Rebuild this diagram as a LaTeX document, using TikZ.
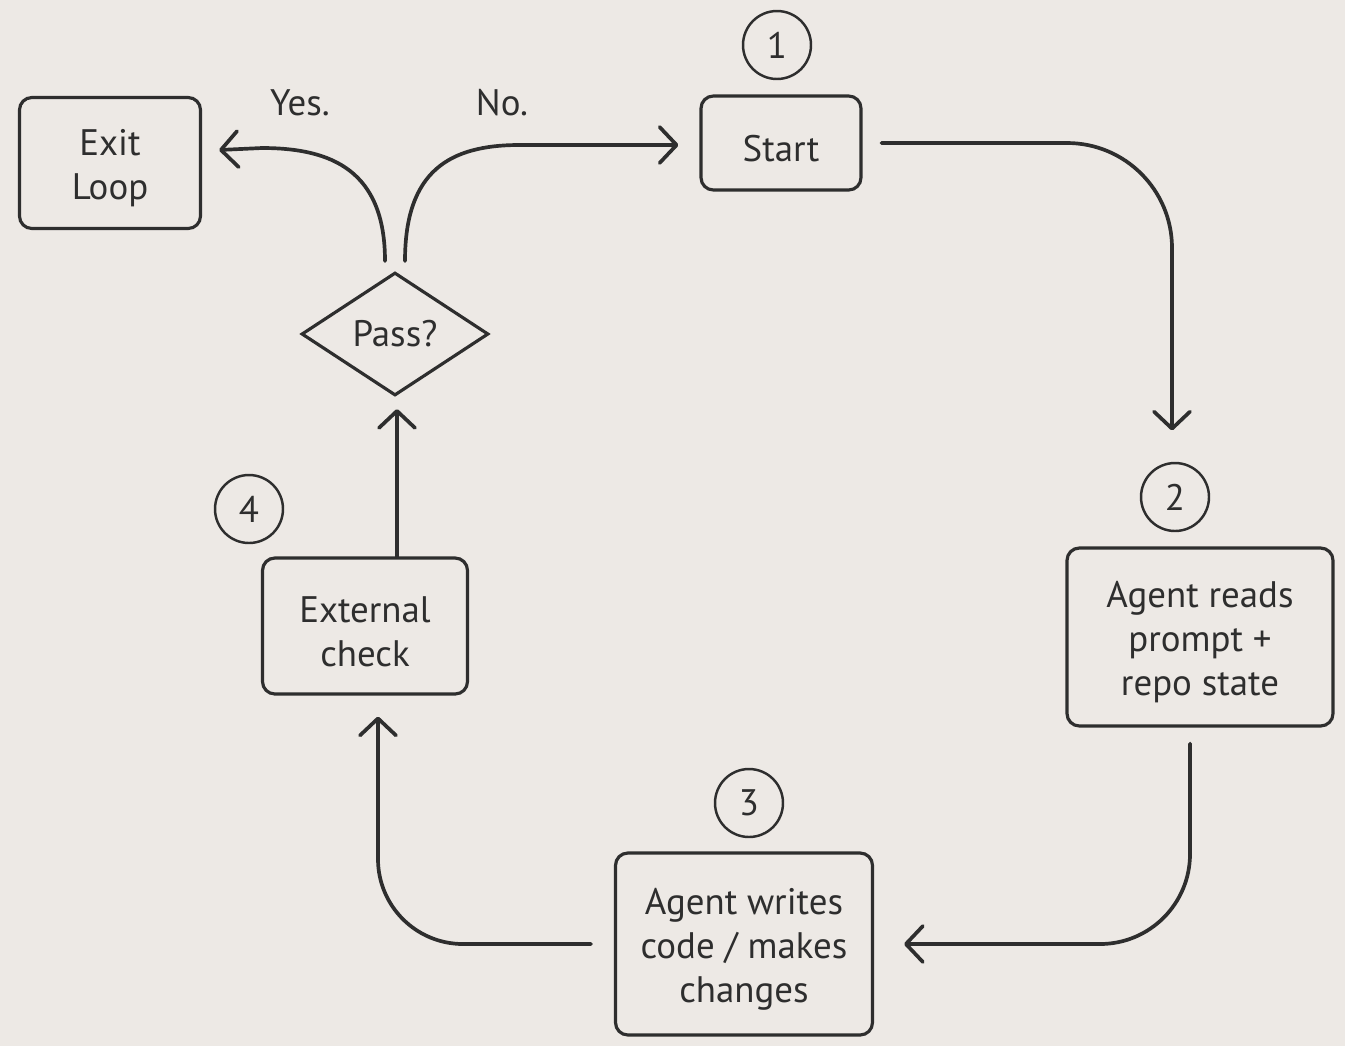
\documentclass[tikz,border=0pt]{standalone}
\usepackage{fontspec}
\setmainfont{PT Sans}
\usetikzlibrary{shapes.geometric,arrows.meta}
\definecolor{bg}{HTML}{EDE9E5}
\definecolor{ink}{HTML}{2E2E2E}
\newcommand{\upstrut}{\rule{0pt}{21pt}}
\begin{document}
\begin{tikzpicture}[x=0.02cm,y=-0.02cm,
  txt/.style={font=\fontsize{21}{25}\selectfont, text=ink},
  box/.style={txt, draw=ink, line width=1.8pt, rounded corners=7pt, align=center, inner sep=0pt},
  num/.style={txt, draw=ink, line width=1.4pt, circle, minimum size=1.36cm, inner sep=0pt},
  conn/.style={draw=ink, line width=2.1pt, line cap=round, line join=round,
    -{Straight Barb[length=0.34cm,width=0.72cm,round]}}]
\fill[bg] (0,0) rectangle (1345,1046);
\useasboundingbox (0,0) rectangle (1345,1046);

\node[box, minimum width=3.62cm, minimum height=2.62cm] (exit) at (110,163) {\upstrut Exit\\Loop};
\node[box, minimum width=3.2cm, minimum height=1.88cm] (start) at (781,143) {\upstrut Start};
\node[txt, diamond, draw=ink, line width=1.8pt, aspect=1.5, inner sep=0pt,
      minimum width=3.74cm, minimum height=2.46cm] (pass) at (395,334) {Pass?};
\node[box, minimum width=4.1cm, minimum height=2.72cm] (ext) at (365,626) {\upstrut External\\check};
\node[box, minimum width=5.32cm, minimum height=3.56cm] (reads) at (1200,637) {\upstrut Agent reads\\prompt +\\repo state};
\node[box, minimum width=5.14cm, minimum height=3.64cm] (writes) at (744,944) {\upstrut Agent writes\\code / makes\\changes};

\node[num] (n1) at (777,45) {1};
\node[num] (n2) at (1175,497) {2};
\node[num] (n3) at (749,803) {3};
\node[num] (n4) at (249,509) {4};

\node[txt] (yes) at (300,103) {Yes.};
\node[txt] (no) at (502,103) {No.};

\draw[conn, rounded corners=2.1cm, shorten <=0.38cm, shorten >=2.32cm]
  (start.east) -| ([xshift=-0.56cm]reads.north);
\draw[conn, rounded corners=1.8cm, shorten <=0.32cm, shorten >=0.6cm]
  ([xshift=-0.2cm]reads.south) |- (writes.east);
\draw[conn, rounded corners=1.7cm, shorten <=0.46cm, shorten >=0.42cm]
  (writes.west) -| ([xshift=0.26cm]ext.south);
\draw[conn, shorten >=0.24cm]
  ([xshift=0.64cm]ext.north) -- ([xshift=0.64cm]ext.north |- pass.south);
\draw[conn] ([shift={(-10,-10)}]pass.north) .. controls +(0,-90) and +(70,0) ..
  ([shift={(60,-15)}]exit.east) -- ([shift={(17,-13)}]exit.east);
\draw[conn] ([shift={(10,-10)}]pass.north) .. controls +(0,-90) and +(-70,0) ..
  ([shift={(-180,2)}]start.west) -- ([shift={(-21,2)}]start.west);
\end{tikzpicture}
\end{document}
